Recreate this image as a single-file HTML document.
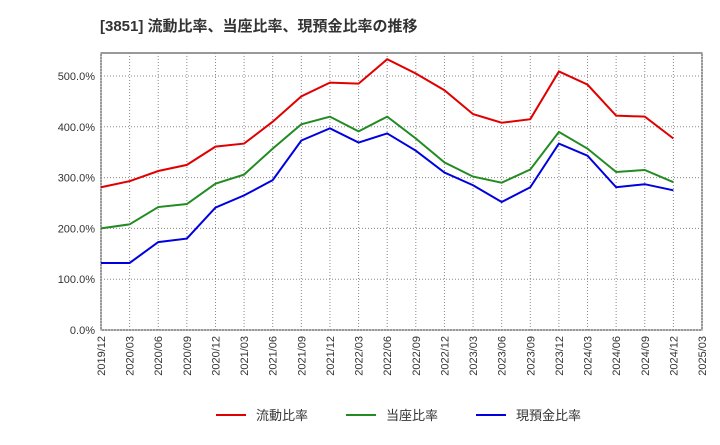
<!DOCTYPE html>
<html><head><meta charset="utf-8"><style>
body{margin:0;background:#fff;font-family:"Liberation Sans","Noto Sans CJK JP",sans-serif;}
</style></head><body>
<svg id="chart" width="720" height="440" xmlns="http://www.w3.org/2000/svg" font-family="Liberation Sans, Noto Sans CJK JP, sans-serif">
<text x="100" y="31" font-size="15" font-weight="bold" fill="#333">[3851]  流動比率、当座比率、現預金比率の推移</text>
<g id="grid"></g><g id="axes"></g><g id="series"></g><g id="legend"></g>
</svg>
<script>
const categories=["2019/12","2020/03","2020/06","2020/09","2020/12","2021/03","2021/06","2021/09","2021/12","2022/03","2022/06","2022/09","2022/12","2023/03","2023/06","2023/09","2023/12","2024/03","2024/06","2024/09","2024/12","2025/03"];
const currentRatio=[281,293,313,325,361,367,410,460,487,485,533,505,472,425,408,415,509,483,422,420,377];
const quickRatio=[200,208,242,248,288,306,357,405,420,391,420,377,330,302,290,316,390,357,311,315,291];
const cashRatio=[132,132,173,180,241,265,295,373,397,369,387,353,310,285,252,281,367,343,281,287,275];
const yTicks=[0,100,200,300,400,500];
const seriesNames=["流動比率","当座比率","現預金比率"];
const seriesColors=["#e00000","#228b22","#0000e0"];
const NS="http://www.w3.org/2000/svg";
const L=101,R=702,T=53,B=330;
const x=i=>L+i*(R-L)/(categories.length-1);
const y=v=>B-v*(B-76)/500;
function mk(tag,attrs,parent){const e=document.createElementNS(NS,tag);for(const k in attrs)e.setAttribute(k,attrs[k]);parent.appendChild(e);return e;}
const grid=document.getElementById('grid'),axes=document.getElementById('axes'),ser=document.getElementById('series'),leg=document.getElementById('legend');
const bg=mk('rect',{x:L,y:T,width:R-L,height:B-T,fill:'#fff',stroke:'#333'},grid);


yTicks.forEach(v=>{
 const g=mk('line',{x1:L,x2:R,y1:y(v),y2:y(v),stroke:'#888','stroke-dasharray':'1,2'},grid);
 
 
 const t=mk('text',{x:L-6,y:y(v)+4,'text-anchor':'end','font-size':11,fill:'#333'},axes);
 t.textContent=v.toFixed(1)+'%';
 
 
});
categories.forEach((c,i)=>{
 const g=mk('line',{x1:x(i),x2:x(i),y1:T,y2:B,stroke:'#888','stroke-dasharray':'1,2'},grid);
 
 
 const t=mk('text',{x:0,y:0,'font-size':11,fill:'#333','text-anchor':'end',transform:`translate(${x(i)+4},${B+6}) rotate(-90)`},axes);
 t.textContent=c;
 
 
});
[currentRatio,quickRatio,cashRatio].forEach((d,s)=>{
 const p=mk('polyline',{points:d.map((v,i)=>x(i)+','+y(v)).join(' '),fill:'none',stroke:seriesColors[s],'stroke-width':2},ser);
 
 
 const lx=216+s*130;
 const ll=mk('line',{x1:lx,x2:lx+30,y1:415,y2:415,stroke:seriesColors[s],'stroke-width':2},leg);
 
 
 const lt=mk('text',{x:lx+40,y:420,'font-size':13,fill:'#333'},leg);
 lt.textContent=seriesNames[s];
 
 
});
</script>
</body></html>
